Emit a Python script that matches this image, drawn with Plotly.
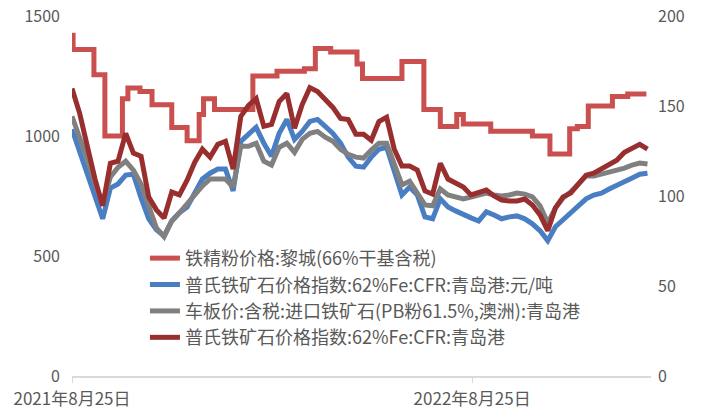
"""铁矿石价格走势图：铁精粉、普氏指数、车板价。"""
import pandas as pd
import plotly.graph_objects as go

# 周度日期（普氏/车板价）
dates = pd.date_range('2021-08-25', periods=76, freq='7D')

# 普氏铁矿石价格指数:62%Fe:CFR:青岛港:元/吨（左轴）
platts_cny = [1028, 937, 850, 746, 655, 783, 800, 837, 841, 742,
              655, 609, 584, 646, 680, 704, 762, 821, 845, 862,
              862, 771, 978, 1007, 1036, 970, 916, 1011, 1069, 986,
              1019, 1061, 1069, 1040, 1011, 970, 912, 874, 870, 912,
              945, 953, 845, 754, 787, 754, 663, 655, 738, 704,
              688, 671, 659, 646, 684, 671, 655, 663, 667, 655,
              634, 605, 564, 622, 651, 675, 709, 738, 754, 762,
              779, 796, 812, 825, 841, 845]

# 车板价:含税:进口铁矿石(PB粉61.5%,澳洲):青岛港（左轴）
pb_fines = [1082, 995, 903, 800, 717, 829, 870, 895, 858, 800,
            704, 617, 580, 646, 680, 717, 750, 792, 821, 821,
            821, 787, 957, 957, 970, 895, 879, 953, 970, 932,
            986, 1011, 1019, 995, 978, 945, 924, 912, 908, 941,
            970, 970, 887, 796, 812, 762, 713, 709, 779, 754,
            746, 738, 746, 754, 762, 754, 750, 754, 762, 758,
            746, 709, 638, 700, 742, 767, 804, 833, 833, 841,
            854, 858, 866, 879, 887, 883]

# 普氏铁矿石价格指数:62%Fe:CFR:青岛港（右轴，美元/吨）
platts_usd = [159.7, 145.9, 127.6, 109.4, 94.5, 118.2, 119.3, 134.8, 123.8, 122.1,
              99.5, 92.3, 87.8, 102.2, 100.6, 108.8, 118.8, 126.0, 121.6, 128.7,
              130.4, 114.9, 144.2, 150.3, 154.1, 138.7, 139.8, 152.5, 156.9, 137.6,
              150.8, 160.2, 158.0, 153.6, 149.2, 143.1, 142.5, 134.3, 134.3, 131.0,
              141.4, 143.7, 126.0, 116.6, 116.6, 114.4, 102.8, 101.1, 118.2, 109.4,
              107.2, 105.0, 100.6, 102.2, 103.3, 100.0, 97.8, 97.2, 97.2, 98.3,
              95.0, 89.5, 80.7, 93.4, 99.5, 101.7, 107.2, 111.6, 112.7, 114.9,
              117.1, 119.9, 124.3, 126.5, 128.7, 126.0]

# 铁精粉价格:黎城(66%干基含税) —— 调价日期与价格（阶梯）
jfz_dates = ['2021-08-25', '2021-08-26', '2021-09-14', '2021-09-24', '2021-10-10',
             '2021-10-15', '2021-10-26', '2021-11-06', '2021-11-24', '2021-12-08',
             '2021-12-19', '2021-12-23', '2022-01-02', '2022-02-06', '2022-02-28',
             '2022-03-25', '2022-04-04', '2022-04-18', '2022-05-12', '2022-05-17',
             '2022-06-22', '2022-07-12', '2022-07-27', '2022-08-11', '2022-08-17',
             '2022-09-11', '2022-10-19', '2022-11-04', '2022-11-22', '2022-11-29',
             '2022-12-09', '2022-12-31', '2023-01-14', '2023-01-31']
jfz_vals = [1420, 1360, 1255, 1000, 1155, 1200, 1185, 1130, 1035, 980,
            1090, 1155, 1110, 1250, 1270, 1280, 1365, 1350, 1300, 1240,
            1310, 1110, 1040, 1090, 1050, 1020, 1000, 925, 1030, 1040,
            1125, 1165, 1175, 1175]

x_ticks = ['2021-08-25', '2022-08-25']
x_ticktext = ['2021年8月25日', '2022年8月25日']

FONT = 'Noto Sans CJK SC'
TXT = '#595959'

fig = go.Figure()

fig.add_trace(go.Scatter(
    x=jfz_dates, y=jfz_vals, mode='lines', line_shape='hv',
    name='铁精粉价格:黎城(66%干基含税)',
    line=dict(color='#C9504E', width=5),
))
fig.add_trace(go.Scatter(
    x=dates, y=platts_cny, mode='lines',
    name='普氏铁矿石价格指数:62%Fe:CFR:青岛港:元/吨',
    line=dict(color='#4A7EC2', width=5),
))
fig.add_trace(go.Scatter(
    x=dates, y=pb_fines, mode='lines',
    name='车板价:含税:进口铁矿石(PB粉61.5%,澳洲):青岛港',
    line=dict(color='#808080', width=5),
))
fig.add_trace(go.Scatter(
    x=dates, y=platts_usd, mode='lines', yaxis='y2',
    name='普氏铁矿石价格指数:62%Fe:CFR:青岛港',
    line=dict(color='#992E2E', width=5),
))

# 页面有 8px 的默认边距，这里按 698x402 作图
fig.update_layout(
    width=698,
    height=402,
    paper_bgcolor='white',
    plot_bgcolor='white',
    font=dict(family=FONT, size=16, color=TXT),
    margin=dict(l=64, r=55, t=8, b=34, autoexpand=False),
    showlegend=True,
    legend=dict(
        x=0.126, y=0.378, xanchor='left', yanchor='top',
        bgcolor='rgba(0,0,0,0)',
        font=dict(family=FONT, size=18, color=TXT),
        tracegroupgap=0,
    ),
    xaxis=dict(
        type='date', automargin=False,
        range=['2021-08-25', '2023-02-04 05:00'],
        tickvals=x_ticks,
        ticktext=x_ticktext,
        showline=True, linecolor='#D9D9D9', linewidth=1.5,
        ticks='outside', ticklen=5, tickcolor='#D9D9D9',
        ticklabelstandoff=2,
        showgrid=False, zeroline=False,
        tickfont=dict(family=FONT, size=17, color=TXT),
    ),
    yaxis=dict(
        range=[0, 1500], tickvals=[0, 500, 1000, 1500], automargin=False,
        showgrid=False, zeroline=False, showline=False,
        ticks='', ticklabelstandoff=11, ticklabeloverflow='allow',
        tickfont=dict(family=FONT, size=16, color=TXT),
    ),
    yaxis2=dict(
        range=[0, 200], tickvals=[0, 50, 100, 150, 200], automargin=False,
        overlaying='y', side='right',
        showgrid=False, zeroline=False, showline=False,
        ticks='', ticklabelstandoff=6, ticklabeloverflow='allow',
        tickfont=dict(family=FONT, size=16, color=TXT),
    ),
)

fig.write_html('out.html')
